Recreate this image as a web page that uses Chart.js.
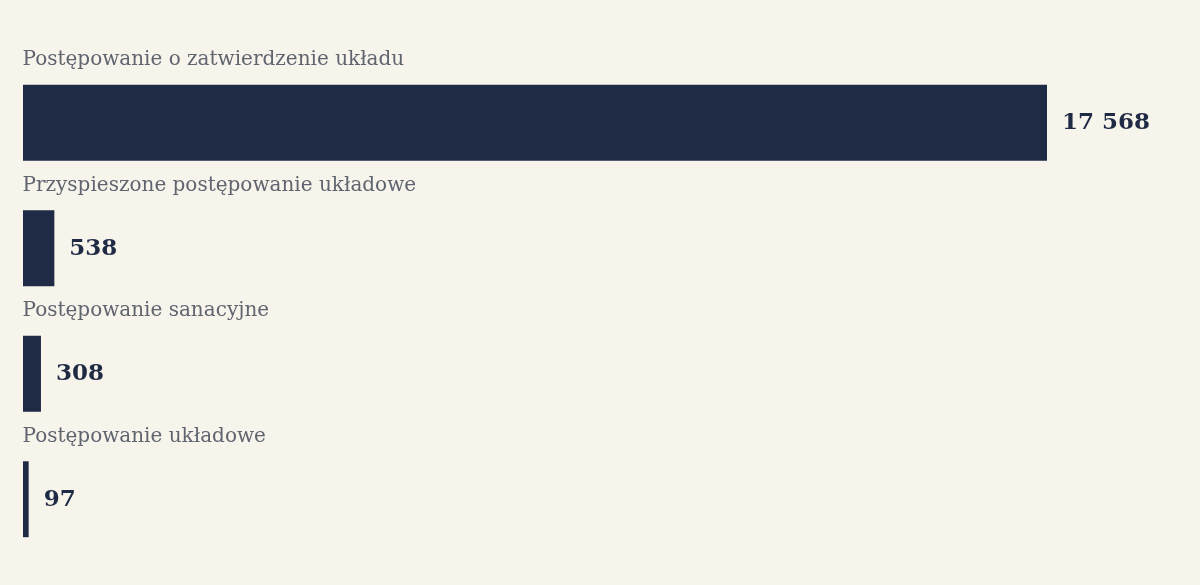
<!DOCTYPE html>
<html>
<head>
<meta charset="utf-8">
<script src="https://cdn.jsdelivr.net/npm/chart.js@4.4.1/dist/chart.umd.min.js"></script>
<style>
html,body{margin:0;padding:0;background:#f7f4ec;}
#wrap{width:1200px;height:585px;position:relative;}
</style>
</head>
<body>
<div id="wrap"><canvas id="c" width="1200" height="585"></canvas></div>
<script>
const categories = [
  "Postępowanie o zatwierdzenie układu",
  "Przyspieszone postępowanie układowe",
  "Postępowanie sanacyjne",
  "Postępowanie układowe"
];
const values = [17568, 538, 308, 97];

const fmt = v => String(v).replace(/\B(?=(\d{3})+(?!\d))/g, " ");

const labelPlugin = {
  id: 'labels',
  afterDatasetsDraw(chart) {
    const ctx = chart.ctx;
    const meta = chart.getDatasetMeta(0);
    ctx.save();
    meta.data.forEach((bar, i) => {
      const top = bar.y - bar.height / 2;
      ctx.font = '20px "DejaVu Serif"';
      ctx.fillStyle = '#60646f';
      ctx.textAlign = 'left';
      ctx.textBaseline = 'alphabetic';
      ctx.fillText(categories[i], chart.chartArea.left - 0.5, top - 19.5);
      ctx.font = 'bold 23px "DejaVu Serif"';
      ctx.fillStyle = '#1f2a44';
      ctx.fillText(fmt(values[i]), bar.x + 15, bar.y + 6.5);
    });
    ctx.restore();
  }
};

new Chart(document.getElementById('c'), {
  type: 'bar',
  data: {
    labels: categories,
    datasets: [{
      data: values,
      backgroundColor: '#1f2a44',
      borderWidth: 0,
      barPercentage: 0.605,
      categoryPercentage: 1.0
    }]
  },
  options: {
    indexAxis: 'y',
    responsive: false,
    animation: false,
    layout: { padding: { left: 23, right: 153, top: 60, bottom: 23 } },
    plugins: { legend: { display: false }, tooltip: { enabled: false } },
    scales: {
      x: { display: false, min: 0, max: Math.max(...values) },
      y: { display: false }
    }
  },
  plugins: [labelPlugin]
});
</script>
</body>
</html>
